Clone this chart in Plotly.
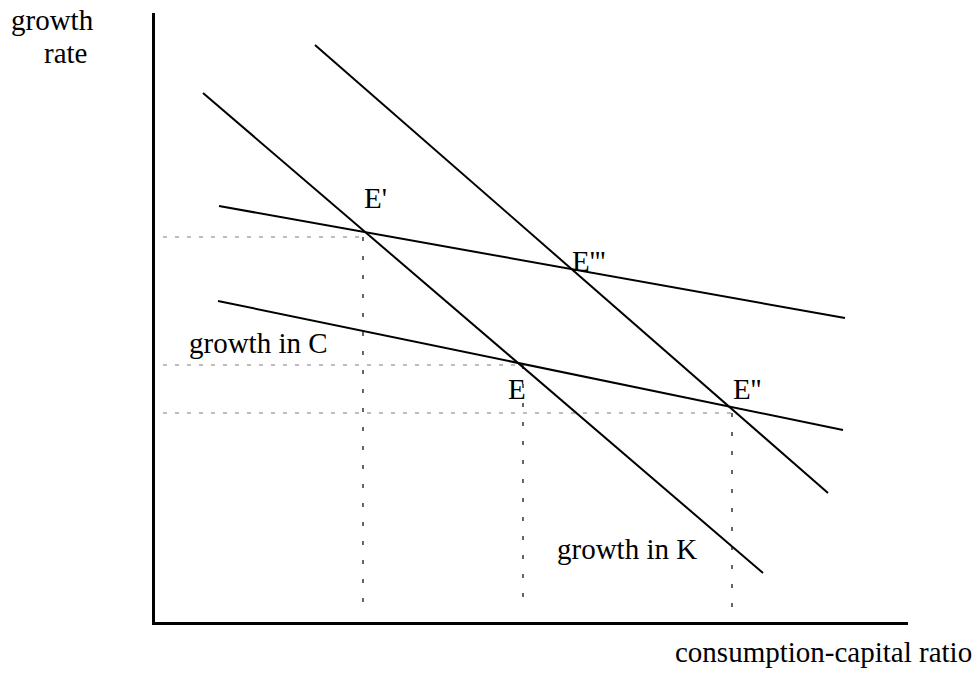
import plotly.graph_objects as go

# line end points (x = consumption-capital ratio, y = growth rate)
k_low_x = [4.8, 60.8]
k_low_y = [52.9, 4.9]
k_high_x = [16.0, 67.3]
k_high_y = [57.7, 12.9]
c_high_x = [6.4, 69.0]
c_high_y = [41.6, 30.4]
c_low_x = [6.3, 68.8]
c_low_y = [32.1, 19.2]

# dotted guides down to the axes from E', E, E''
guide_x = [20.8, 36.8, 57.7]
guide_y = [38.5, 25.7, 20.9]
guide_start = 0.8

FONT = "Liberation Serif, Times New Roman, serif"
SIZE = 29

fig = go.Figure()

# dotted guides first so the solid lines sit on top
for gx, gy in zip(guide_x, guide_y):
    fig.add_trace(go.Scatter(x=[guide_start, gx], y=[gy, gy], mode="lines",
                             line=dict(color="#7a7a7a", width=1, dash="4px,8px")))
    fig.add_trace(go.Scatter(x=[gx, gx], y=[gy, guide_start + 0.2], mode="lines",
                             line=dict(color="black", width=1.2, dash="4px,15px")))

for xs, ys in [(k_low_x, k_low_y), (k_high_x, k_high_y), (c_high_x, c_high_y), (c_low_x, c_low_y)]:
    fig.add_trace(go.Scatter(x=xs, y=ys, mode="lines", line=dict(color="black", width=2)))

labels = [
    ("E'", 22.0, 42.4),
    ("E'''", 43.3, 36.1),
    ("E''", 59.2, 23.3),
    ("E", 36.2, 23.3),
    ("growth in C", 10.3, 27.9),
    ("growth in K", 47.2, 7.3),
]
for txt, lx, ly in labels:
    fig.add_annotation(x=lx, y=ly, text=txt, showarrow=False,
                       xanchor="center", yanchor="middle",
                       font=dict(family=FONT, size=SIZE, color="black"))

fig.add_annotation(x=1.088, y=-0.05, xref="paper", yref="paper", text="consumption-capital ratio",
                   showarrow=False, xanchor="right", yanchor="middle",
                   font=dict(family=FONT, size=SIZE, color="black"))
fig.add_annotation(x=-0.1355, y=0.9877, xref="paper", yref="paper", text="growth",
                   showarrow=False, xanchor="center", yanchor="middle",
                   font=dict(family=FONT, size=SIZE, color="black"))
fig.add_annotation(x=-0.1195, y=0.935, xref="paper", yref="paper", text="rate",
                   showarrow=False, xanchor="center", yanchor="middle",
                   font=dict(family=FONT, size=SIZE, color="black"))

fig.update_xaxes(range=[0, 75.3], showgrid=False, zeroline=False, showticklabels=False,
                 ticks="", showline=True, linecolor="black", linewidth=3)
fig.update_yaxes(range=[0, 60.9], showgrid=False, zeroline=False, showticklabels=False,
                 ticks="", showline=True, linecolor="black", linewidth=3)
fig.update_layout(width=974, height=677, showlegend=False,
                  margin=dict(l=155, r=66, t=13, b=55),
                  plot_bgcolor="white", paper_bgcolor="white")

# page has a default 8px body margin, drop it so the figure fills the window
fig.write_html("out.html", config={"displayModeBar": False},
               post_script="document.body.style.margin='0';document.body.style.overflow='hidden';")
